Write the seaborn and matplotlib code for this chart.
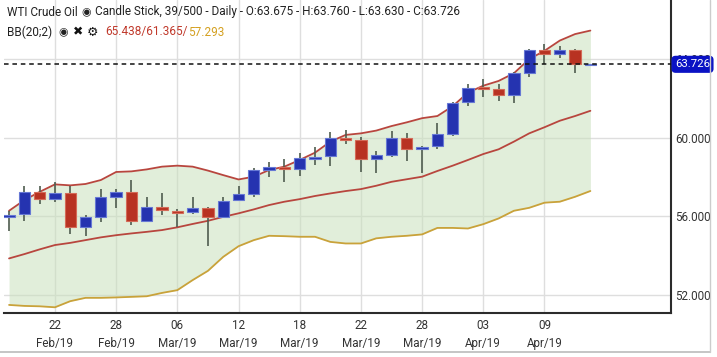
import numpy as np
import pandas as pd
import matplotlib
matplotlib.use("Agg")
import matplotlib.pyplot as plt
from matplotlib.lines import Line2D
import matplotlib.transforms as mtransforms
import seaborn as sns

# ---------------- data ----------------
dates = pd.bdate_range("2019-02-19", "2019-04-12")  # 39 trading days

opens = [55.98, 56.12, 57.24, 56.88, 57.17, 55.48, 55.97, 57.00, 57.24, 55.78,
         56.46, 56.29, 56.24, 56.41, 55.98, 56.83, 57.14, 58.36, 58.53, 58.41,
         58.92, 59.07, 60.00, 59.88, 58.92, 59.11, 60.00, 59.43, 59.58, 60.17,
         61.83, 62.54, 62.48, 62.17, 63.27, 64.46, 64.24, 64.46, 63.675]
highs = [56.29, 57.56, 57.56, 57.76, 57.56, 56.07, 57.39, 57.39, 57.85, 56.97,
         57.17, 56.36, 56.97, 56.46, 56.97, 57.55, 58.44, 58.75, 58.92, 59.21,
         59.54, 60.27, 60.39, 60.05, 59.32, 60.36, 60.22, 59.56, 60.73, 61.80,
         62.71, 62.97, 62.73, 63.32, 64.49, 64.76, 64.66, 64.48, 63.760]
lows = [55.27, 55.77, 56.64, 56.72, 55.09, 55.02, 55.70, 56.44, 55.56, 55.73,
        56.07, 55.48, 56.11, 54.51, 55.95, 56.78, 57.00, 58.02, 57.73, 58.05,
        58.61, 58.56, 59.66, 58.27, 58.19, 59.03, 58.82, 58.22, 59.41, 60.09,
        61.61, 62.05, 61.88, 61.78, 63.10, 63.73, 64.04, 63.30, 63.630]
closes = [56.05, 57.25, 56.88, 57.17, 55.48, 55.97, 57.00, 57.24, 55.78, 56.48,
          56.31, 56.19, 56.41, 55.98, 56.80, 57.12, 58.36, 58.53, 58.39, 58.98,
          59.03, 60.00, 59.88, 58.92, 59.11, 60.00, 59.43, 59.54, 60.19, 61.78,
          62.54, 62.46, 62.19, 63.27, 64.46, 64.24, 64.46, 63.75, 63.726]

bb_upper = [56.29, 56.83, 57.25, 57.63, 57.58, 57.65, 57.85, 58.26, 58.29, 58.39,
            58.53, 58.58, 58.53, 58.33, 58.10, 57.88, 58.02, 58.36, 58.53, 58.87,
            59.24, 59.80, 60.14, 60.22, 60.36, 60.59, 60.78, 60.99, 61.10, 61.60,
            62.29, 62.64, 62.88, 63.27, 63.99, 64.41, 64.93, 65.26, 65.438]
bb_middle = [53.87, 54.09, 54.33, 54.55, 54.66, 54.80, 54.94, 55.05, 55.14, 55.22,
             55.31, 55.45, 55.62, 55.78, 55.98, 56.16, 56.36, 56.58, 56.75, 56.88,
             57.04, 57.17, 57.29, 57.39, 57.56, 57.76, 57.89, 58.02, 58.31, 58.58,
             58.87, 59.17, 59.41, 59.80, 60.22, 60.53, 60.86, 61.10, 61.365]
bb_lower = [51.51, 51.46, 51.44, 51.39, 51.70, 51.87, 51.87, 51.89, 51.92, 51.95,
            52.12, 52.26, 52.77, 53.24, 53.95, 54.49, 54.80, 55.02, 55.00, 54.97,
            54.97, 54.71, 54.63, 54.63, 54.89, 54.97, 55.02, 55.09, 55.42, 55.42,
            55.39, 55.61, 55.90, 56.29, 56.44, 56.70, 56.75, 57.00, 57.293]

y_ticks = [52, 56, 60, 64]
last_price = 63.726
header_title = "WTI Crude Oil"
header_info = "Candle Stick, 39/500 - Daily - O:63.675 - H:63.760 - L:63.630 - C:63.726"
bb_label = "BB(20;2)"
bb_values_red = "65.438/61.365/"
bb_values_gold = "57.293"

# ---------------- styling ----------------
sns.set_theme(style="white")
FONT = ["Roboto", "DejaVu Sans"]
plt.rcParams["font.family"] = FONT

UP = "#2533b0"
UP_EDGE = "#6678d4"
DOWN = "#b83222"
DOWN_EDGE = "#d46a58"
WICK = "#4f5c4f"
FILL = "#c9e0bd"
BAND_RED = "#b8463e"
BAND_GOLD = "#c9a23a"
TEXT = "#333333"

df = pd.DataFrame({
    "idx": np.arange(len(dates)),
    "open": opens, "high": highs, "low": lows, "close": closes,
    "upper": bb_upper, "middle": bb_middle, "lower": bb_lower,
})

fig = plt.figure(figsize=(7.17, 3.57), dpi=100)
ax = fig.add_axes([4 / 717, 1 - 313 / 357, (671 - 4) / 717, 313 / 357])

# grid
ax.set_xticks(np.arange(3, len(dates), 4))
ax.set_yticks(y_ticks)
ax.grid(True, color="#dedede", linewidth=1.0, zorder=0)
ax.set_axisbelow(True)

# Bollinger band fill and lines
ax.fill_between(df["idx"], df["lower"], df["upper"], color=FILL, alpha=0.55,
                linewidth=0, zorder=1)
sns.lineplot(data=df, x="idx", y="upper", ax=ax, color=BAND_RED, linewidth=1.3,
             zorder=2, legend=False)
sns.lineplot(data=df, x="idx", y="middle", ax=ax, color=BAND_RED, linewidth=1.3,
             zorder=2, legend=False)
sns.lineplot(data=df, x="idx", y="lower", ax=ax, color=BAND_GOLD, linewidth=1.3,
             zorder=2, legend=False)

# candles
up = df["close"] >= df["open"]
ax.vlines(df["idx"], df["low"], df["high"], color=WICK, linewidth=1.2, zorder=3)
body_bottom = np.minimum(df["open"], df["close"])
body_h = np.maximum(np.abs(df["close"] - df["open"]), 0.09)
ax.bar(df["idx"][up], body_h[up], bottom=body_bottom[up], width=0.74,
       color=UP, edgecolor=UP_EDGE, linewidth=0.8, zorder=4)
ax.bar(df["idx"][~up], body_h[~up], bottom=body_bottom[~up], width=0.74,
       color=DOWN, edgecolor=DOWN_EDGE, linewidth=0.8, zorder=4)

# last price dashed line
ax.axhline(last_price, color="#111111", linewidth=1.1, linestyle=(0, (3, 2.5)), zorder=5)

# axes limits
ax.set_xlim(-0.33, 43.27)
ax.set_ylim(51.10, 66.99)

# ticks
ax.yaxis.tick_right()
ax.set_yticklabels([f"{v:.3f}" for v in y_ticks])
tick_dates = dates[3::4]
ax.set_xticklabels([f"{d:%d}\n{d:%b/%y}" for d in tick_dates], linespacing=1.55)
ax.tick_params(axis="both", length=0, labelsize=8.4, labelcolor=TEXT)
ax.tick_params(axis="y", pad=3)
ax.tick_params(axis="x", pad=4)
ax.set_xlabel("")
ax.set_ylabel("")

for side in ["left", "top"]:
    ax.spines[side].set_visible(False)
for side in ["right", "bottom"]:
    ax.spines[side].set_color("#2b2b2b")
    ax.spines[side].set_linewidth(1.5)

# last price label (drawn above the 64.000 tick label)
trans = mtransforms.blended_transform_factory(ax.transAxes, ax.transData)
ax.text(1.006, last_price, f"{last_price:.3f}", transform=trans, ha="left",
        va="center", color="white", fontsize=8.2, zorder=10, clip_on=False,
        bbox=dict(boxstyle="round,pad=0.25,rounding_size=0.3", fc="#0a12c4",
                  ec="#0a12c4"))

# header, placed piece by piece so nothing overlaps
renderer = fig.canvas.get_renderer()


def chain(pieces, x0, y_px):
    x = x0
    for text, kw, gap in pieces:
        t = fig.text(x / 717, 1 - y_px / 357, text, ha="left", va="center", **kw)
        w = t.get_window_extent(renderer=renderer).width
        x += w + gap


base = dict(fontsize=8.5, color="#222222")
icon = dict(fontsize=7.8, color="#222222", family=["DejaVu Sans"])
chain([
    (header_title, base, 4),
    ("◉", icon, 4),
    (header_info, base, 0),
], 7, 12)
chain([
    (bb_label, base, 6),
    ("◉", icon, 5),
    ("✖", dict(fontsize=8.8, color="#111111", family=["DejaVu Sans"]), 4),
    ("⚙", dict(fontsize=9.3, color="#111111", family=["DejaVu Sans"]), 7),
    (bb_values_red, dict(fontsize=8.5, color="#c0392b"), 0),
    (bb_values_gold, dict(fontsize=8.5, color="#d4a020"), 0),
], 7, 32)

# outer frame lines (bottom/right shadow)
fig.add_artist(Line2D([0, 710 / 717], [1 - 352 / 357] * 2, color="#bbbbbb", linewidth=1.2))
fig.add_artist(Line2D([710 / 717] * 2, [1 - 352 / 357, 1], color="#cccccc", linewidth=1.0))

fig.savefig("out.png", dpi=100)
